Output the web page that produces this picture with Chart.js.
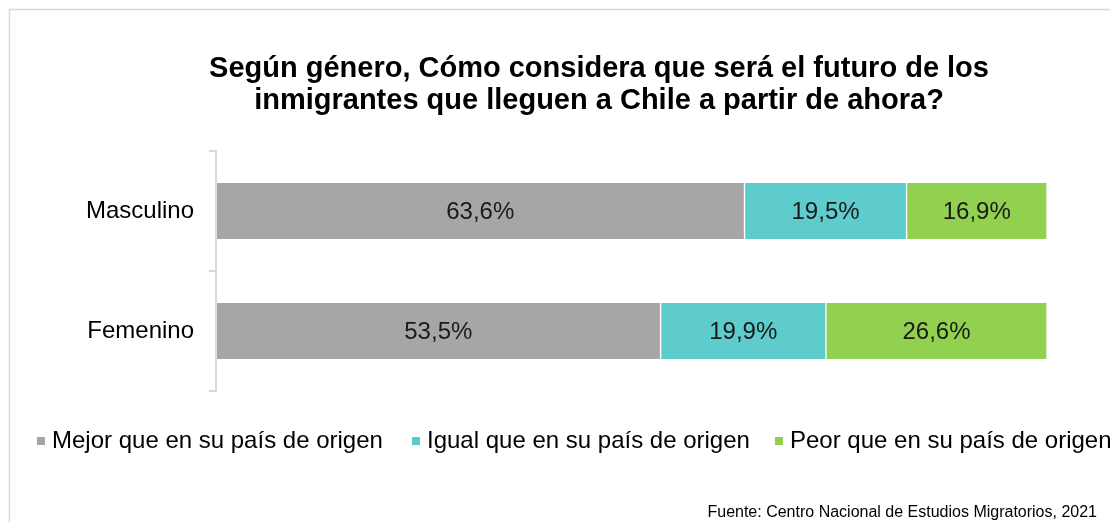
<!DOCTYPE html>
<html>
<head>
<meta charset="utf-8">
<script src="https://cdn.jsdelivr.net/npm/chart.js@4.4.1/dist/chart.umd.min.js"></script>
<style>
  html, body { margin: 0; padding: 0; background: #fff; }
  #wrap { width: 1110px; height: 522px; position: relative; }
</style>
</head>
<body>
<div id="wrap"><canvas id="futuroChart" width="1110" height="522"></canvas></div>
<script>
const categories = ['Masculino', 'Femenino'];
const seriesNames = ['Mejor que en su país de origen', 'Igual que en su país de origen', 'Peor que en su país de origen'];
const mejorValues = [63.6, 53.5];
const igualValues = [19.5, 19.9];
const peorValues = [16.9, 26.6];
const seriesColors = ['#a6a6a6', '#5ecccc', '#92d050'];
const titleLines = ['Según género, Cómo considera que será el futuro de los', 'inmigrantes que lleguen a Chile a partir de ahora?'];
const sourceText = 'Fuente: Centro Nacional de Estudios Migratorios, 2021';

const FONT = 'Arial, "Liberation Sans", sans-serif';

// frame, title, legend and source drawn on top of the chart
const decorPlugin = {
    id: 'decor',
    beforeDraw: (chart) => {
        const ctx = chart.ctx;
        ctx.save();
        ctx.strokeStyle = '#d9d9d9';
        ctx.lineWidth = 1.5;
        ctx.strokeRect(9.5, 9.5, 1200, 600);
        ctx.restore();
    },
    afterDraw: (chart) => {
        const ctx = chart.ctx;
        ctx.save();
        // title
        ctx.fillStyle = '#000';
        ctx.font = 'bold 29px ' + FONT;
        ctx.textAlign = 'center';
        ctx.textBaseline = 'alphabetic';
        ctx.fillText(titleLines[0], 599, 77);
        ctx.fillText(titleLines[1], 599, 109);

        // data labels
        ctx.font = '24px ' + FONT;
        ctx.fillStyle = '#1a1a1a';
        ctx.textBaseline = 'middle';
        chart.data.datasets.forEach((ds, i) => {
            chart.getDatasetMeta(i).data.forEach((bar, j) => {
                const p = bar.getProps(['x', 'y', 'base'], true);
                const label = ds.data[j].toFixed(1).replace('.', ',') + '%';
                ctx.fillText(label, (p.x + p.base) / 2, p.y + 1);
            });
        });

        // legend
        const legendX = [37, 412, 775];
        ctx.textAlign = 'left';
        ctx.font = '24px ' + FONT;
        seriesNames.forEach((name, i) => {
            ctx.fillStyle = seriesColors[i];
            ctx.fillRect(legendX[i], 437, 8, 8);
            ctx.fillStyle = '#000';
            ctx.fillText(name, legendX[i] + 15, 441);
        });

        // source
        ctx.font = '16px ' + FONT;
        ctx.textAlign = 'right';
        ctx.fillStyle = '#000';
        ctx.fillText(sourceText, 1097, 513);
        ctx.restore();
    }
};

const datasets = [mejorValues, igualValues, peorValues].map((vals, i) => ({
    label: seriesNames[i],
    data: vals,
    backgroundColor: seriesColors[i],
    borderColor: '#ffffff',
    borderWidth: { left: 1, right: 1, top: 0, bottom: 0 },
    borderSkipped: false,
    barThickness: 56,
}));

new Chart(document.getElementById('futuroChart'), {
    type: 'bar',
    data: { labels: categories, datasets: datasets },
    options: {
        indexAxis: 'y',
        responsive: false,
        animation: false,
        layout: { padding: { top: 151, bottom: 131, right: 63, left: 0 } },
        scales: {
            x: { stacked: true, min: 0, max: 100, display: false },
            y: {
                stacked: true,
                afterFit: (scale) => { scale.width = 216; },
                border: { display: true, color: '#d9d9d9', width: 2 },
                grid: { display: true, drawOnChartArea: false, color: '#d9d9d9', lineWidth: 2, tickLength: 7, offset: true },
                ticks: { color: '#000', padding: 15, font: { size: 24, family: FONT } },
            },
        },
        plugins: {
            legend: { display: false },
            title: { display: false },
            tooltip: { enabled: false },
        },
    },
    plugins: [decorPlugin],
});
</script>
</body>
</html>
